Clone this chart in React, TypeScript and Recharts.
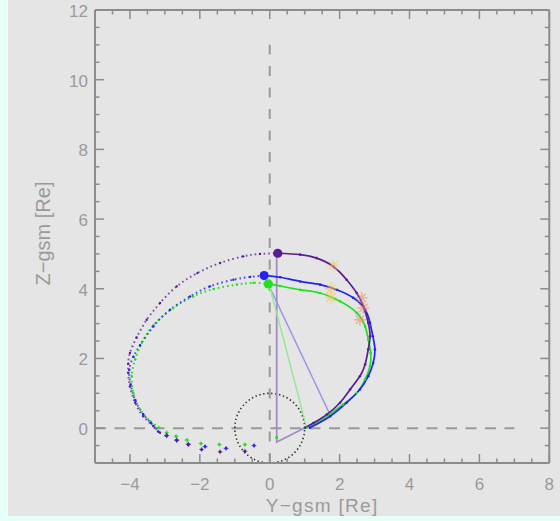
import React from 'react';
import { ComposedChart, Line, Scatter, XAxis, YAxis, ReferenceLine } from 'recharts';

type Pt = { x: number; y: number };

// Axis ticks (Re)
const xTicks = [-5, -4.5, -4, -3.5, -3, -2.5, -2, -1.5, -1, -0.5, 0, 0.5, 1, 1.5, 2, 2.5, 3, 3.5, 4, 4.5, 5, 5.5, 6, 6.5, 7, 7.5, 8];
const xMajor = [-4, -2, 0, 2, 4, 6, 8];
const yTicks = [-1, -0.5, 0, 0.5, 1, 1.5, 2, 2.5, 3, 3.5, 4, 4.5, 5, 5.5, 6, 6.5, 7, 7.5, 8, 8.5, 9, 9.5, 10, 10.5, 11, 11.5, 12];
const yMajor = [0, 2, 4, 6, 8, 10, 12];

// Spacecraft 1 (purple)
const purpleTail: Pt[] = [
  { x: -2.95, y: -0.21 }, { x: -2.66, y: -0.35 }, { x: -2.33, y: -0.47 }, { x: -1.95, y: -0.61 },
  { x: -1.42, y: -0.68 }, { x: -0.71, y: -0.66 },
];
const purpleInbound: Pt[] = [
  { x: -3.14, y: -0.13 }, { x: -3.33, y: 0.06 }, { x: -3.62, y: 0.34 }, { x: -3.85, y: 0.73 },
  { x: -4.0, y: 1.2 }, { x: -4.05, y: 1.59 }, { x: -4.05, y: 1.85 }, { x: -4.0, y: 2.16 },
  { x: -3.81, y: 2.6 }, { x: -3.52, y: 3.11 }, { x: -3.14, y: 3.59 }, { x: -2.66, y: 4.07 },
  { x: -2.07, y: 4.45 }, { x: -1.42, y: 4.74 }, { x: -0.76, y: 4.93 }, { x: -0.28, y: 5.0 },
  { x: 0.23, y: 5.02 },
];
const purpleOutbound: Pt[] = [
  { x: 0.23, y: 5.02 }, { x: 0.87, y: 4.98 }, { x: 1.34, y: 4.88 }, { x: 1.82, y: 4.64 },
  { x: 2.2, y: 4.26 }, { x: 2.49, y: 3.88 }, { x: 2.68, y: 3.5 }, { x: 2.82, y: 3.02 },
  { x: 2.87, y: 2.64 }, { x: 2.82, y: 2.26 }, { x: 2.73, y: 1.83 }, { x: 2.58, y: 1.49 },
  { x: 2.3, y: 1.11 }, { x: 2.01, y: 0.73 }, { x: 1.63, y: 0.39 }, { x: 1.25, y: 0.15 },
  { x: 1.01, y: 0.01 },
];
const purpleDot: Pt[] = [{ x: 0.23, y: 5.02 }];
const purpleFoot: Pt[] = [{ x: 0.2, y: 5.0 }, { x: 0.2, y: -0.4 }, { x: 1.01, y: 0.01 }];

// Spacecraft 2 (blue)
const blueTail: Pt[] = [
  { x: -2.95, y: -0.22 }, { x: -2.66, y: -0.34 }, { x: -2.33, y: -0.46 }, { x: -1.85, y: -0.53 },
  { x: -1.25, y: -0.58 }, { x: -0.45, y: -0.5 },
];
const blueInbound: Pt[] = [
  { x: -3.19, y: -0.1 }, { x: -3.4, y: 0.15 }, { x: -3.62, y: 0.4 }, { x: -3.85, y: 0.8 },
  { x: -3.98, y: 1.25 }, { x: -4.02, y: 1.68 }, { x: -3.9, y: 2.05 }, { x: -3.71, y: 2.38 },
  { x: -3.33, y: 2.92 }, { x: -2.85, y: 3.4 }, { x: -2.28, y: 3.78 }, { x: -1.71, y: 4.07 },
  { x: -1.04, y: 4.26 }, { x: -0.56, y: 4.34 }, { x: -0.16, y: 4.38 },
];
const blueOutbound: Pt[] = [
  { x: -0.16, y: 4.38 }, { x: 0.3, y: 4.33 }, { x: 0.87, y: 4.21 }, { x: 1.44, y: 4.12 },
  { x: 1.92, y: 3.97 }, { x: 2.39, y: 3.74 }, { x: 2.73, y: 3.4 }, { x: 2.87, y: 3.02 },
  { x: 2.95, y: 2.64 }, { x: 3.01, y: 2.26 }, { x: 2.96, y: 1.87 }, { x: 2.82, y: 1.49 },
  { x: 2.58, y: 1.11 }, { x: 2.2, y: 0.73 }, { x: 1.73, y: 0.34 }, { x: 1.15, y: 0.01 },
];
const blueDot: Pt[] = [{ x: -0.16, y: 4.38 }];
const blueFoot: Pt[] = [{ x: -0.16, y: 4.38 }, { x: 1.71, y: 0.42 }];

// Spacecraft 3 (green)
const greenTail: Pt[] = [
  { x: -2.95, y: -0.13 }, { x: -2.68, y: -0.23 }, { x: -2.37, y: -0.34 }, { x: -1.97, y: -0.44 },
  { x: -1.44, y: -0.47 }, { x: -0.71, y: -0.47 },
];
const greenInbound: Pt[] = [
  { x: -3.16, y: 0.01 }, { x: -3.42, y: 0.2 }, { x: -3.71, y: 0.54 }, { x: -3.9, y: 1.01 },
  { x: -3.95, y: 1.5 }, { x: -3.85, y: 1.97 }, { x: -3.66, y: 2.45 }, { x: -3.33, y: 2.95 },
  { x: -2.76, y: 3.45 }, { x: -2.19, y: 3.78 }, { x: -1.61, y: 3.99 }, { x: -0.94, y: 4.12 },
  { x: -0.47, y: 4.17 }, { x: -0.04, y: 4.14 },
];
const greenOutbound: Pt[] = [
  { x: -0.04, y: 4.14 }, { x: 0.3, y: 4.08 }, { x: 0.87, y: 3.97 }, { x: 1.44, y: 3.88 },
  { x: 2.01, y: 3.64 }, { x: 2.49, y: 3.31 }, { x: 2.73, y: 2.92 }, { x: 2.82, y: 2.54 },
  { x: 2.89, y: 2.16 }, { x: 2.87, y: 1.78 }, { x: 2.73, y: 1.4 }, { x: 2.49, y: 1.01 },
  { x: 2.1, y: 0.68 }, { x: 1.63, y: 0.34 }, { x: 1.06, y: 0.01 },
];
const greenDot: Pt[] = [{ x: -0.04, y: 4.14 }];
const greenFoot: Pt[] = [{ x: -0.02, y: 4.14 }, { x: 1.06, y: 0.0 }];
const greenFootMark: Pt[] = [{ x: 0.2, y: -0.27 }];

// Boundary crossing markers
const yellowStars: Pt[] = [{ x: 1.82, y: 4.67 }, { x: 1.75, y: 4.0 }, { x: 1.75, y: 3.75 }];
const orangeStars: Pt[] = [{ x: 2.63, y: 3.74 }, { x: 2.68, y: 3.45 }, { x: 2.58, y: 3.11 }];

// Earth outline, radius 1 Re
const earth: Pt[] = Array.from({ length: 73 }, (_, i) => ({
  x: Math.cos((i * 5 * Math.PI) / 180),
  y: Math.sin((i * 5 * Math.PI) / 180),
}));

const PURPLE = '#5a1c92';
const BLUE = '#2424ee';
const GREEN = '#22e022';
const AXIS = '#8c8c8c';
const TXT = '#9a9a9a';
const FONT = 'Liberation Sans, Arial, sans-serif';

const fmt = (v: number) => (v < 0 ? `\u2212${Math.abs(v)}` : `${v}`);

const BottomTick = (props: any) => {
  const { x, y, payload } = props;
  const major = xMajor.includes(payload.value);
  return (
    <g>
      <line x1={x} y1={y} x2={x} y2={y - (major ? 9 : 4.5)} stroke={AXIS} strokeWidth={1.5} />
      {major && (
        <text x={x} y={y + 27} textAnchor="middle" fill={TXT} fontSize={17} fontFamily={FONT}>
          {fmt(payload.value)}
        </text>
      )}
    </g>
  );
};

const TopTick = (props: any) => {
  const { x, y, payload } = props;
  const major = xMajor.includes(payload.value);
  return <line x1={x} y1={y} x2={x} y2={y + (major ? 9 : 4.5)} stroke={AXIS} strokeWidth={1.5} />;
};

const LeftTick = (props: any) => {
  const { x, y, payload } = props;
  const major = yMajor.includes(payload.value);
  return (
    <g>
      <line x1={x} y1={y} x2={x + (major ? 9 : 4.5)} y2={y} stroke={AXIS} strokeWidth={1.5} />
      {major && (
        <text x={x - 7} y={y + 7} textAnchor="end" fill={TXT} fontSize={17} fontFamily={FONT}>
          {fmt(payload.value)}
        </text>
      )}
    </g>
  );
};

const RightTick = (props: any) => {
  const { x, y, payload } = props;
  const major = yMajor.includes(payload.value);
  return <line x1={x} y1={y} x2={x - (major ? 9 : 4.5)} y2={y} stroke={AXIS} strokeWidth={1.5} />;
};

const XTitle = (props: any) => {
  const vb = props.viewBox || {};
  return (
    <text x={vb.x + vb.width / 2} y={vb.y + 49} textAnchor="middle" fill={TXT} fontSize={19} fontFamily={FONT} letterSpacing={1.3}>
      {'Y\u2212gsm [Re]'}
    </text>
  );
};

const YTitle = (props: any) => {
  const vb = props.viewBox || {};
  const cx = vb.x + vb.width - 45;
  const cy = vb.y + vb.height / 2 - 3;
  return (
    <text x={cx} y={cy} transform={`rotate(-90 ${cx} ${cy})`} textAnchor="middle" fill={TXT} fontSize={20} fontFamily={FONT}>
      {'Z\u2212gsm [Re]'}
    </text>
  );
};

const plusShape = (color: string, size: number) => (p: any) => {
  const { cx, cy } = p;
  return (
    <g>
      <path d={`M${cx - size},${cy}h${2 * size}M${cx},${cy - size}v${2 * size}`} stroke={color} strokeWidth={1} opacity={0.6} />
      <circle cx={cx} cy={cy} r={1.5} fill={color} />
    </g>
  );
};

const starShape = (color: string) => (p: any) => {
  const { cx, cy } = p;
  const s = 6;
  const d = 4.3;
  return (
    <path
      d={`M${cx - s},${cy}h${2 * s}M${cx},${cy - s}v${2 * s}M${cx - d},${cy - d}l${2 * d},${2 * d}M${cx - d},${cy + d}l${2 * d},${-2 * d}`}
      stroke={color}
      strokeWidth={1.5}
      opacity={0.55}
    />
  );
};

const bigDot = (color: string) => (p: any) => <circle cx={p.cx} cy={p.cy} r={4.6} fill={color} />;

export default function App() {
  return (
    <div style={{ position: 'absolute', left: 0, top: 0, width: 560, height: 521, background: '#e6fff8' }}>
      <div style={{ position: 'absolute', left: 8, top: 0, width: 552, height: 516, background: '#e5e5e5' }}>
        <ComposedChart
          width={552}
          height={516}
          margin={{ top: 0, right: 0, bottom: 0, left: 0 }}
          style={{ fontFamily: FONT }}
        >
          <XAxis
            type="number"
            dataKey="x"
            domain={[-5, 8]}
            ticks={xTicks}
            interval={0}
            height={53}
            tickSize={0}
            tickMargin={0}
            tick={BottomTick}
            axisLine={{ stroke: AXIS, strokeWidth: 2 }}
            allowDataOverflow
            label={<XTitle />}
          />
          <XAxis
            xAxisId="top"
            orientation="top"
            type="number"
            dataKey="x"
            domain={[-5, 8]}
            ticks={xTicks}
            interval={0}
            height={10}
            tickSize={0}
            tickMargin={0}
            tick={TopTick}
            axisLine={{ stroke: AXIS, strokeWidth: 2 }}
            allowDataOverflow
          />
          <YAxis
            type="number"
            dataKey="y"
            domain={[-1, 12]}
            ticks={yTicks}
            interval={0}
            width={87}
            tickSize={0}
            tickMargin={0}
            tick={LeftTick}
            axisLine={{ stroke: AXIS, strokeWidth: 2 }}
            allowDataOverflow
            label={<YTitle />}
          />
          <YAxis
            yAxisId="right"
            orientation="right"
            type="number"
            dataKey="y"
            domain={[-1, 12]}
            ticks={yTicks}
            interval={0}
            width={10.7}
            tickSize={0}
            tickMargin={0}
            tick={RightTick}
            axisLine={{ stroke: AXIS, strokeWidth: 2 }}
            allowDataOverflow
          />

          <ReferenceLine
            segment={[{ x: -5, y: 0 }, { x: 7, y: 0 }]}
            stroke="#9a9a9a"
            strokeWidth={2}
            strokeDasharray="11 8.5"
          />
          <ReferenceLine
            segment={[{ x: 0, y: -1 }, { x: 0, y: 11 }]}
            stroke="#9a9a9a"
            strokeWidth={2}
            strokeDasharray="10 11.5"
          />

          <Line data={earth} dataKey="y" type="linear" stroke="#333333" strokeWidth={1.6} strokeDasharray="1.4 2.6" dot={false} isAnimationActive={false} />

          <Line data={purpleFoot} dataKey="y" type="linear" stroke="#a58cc4" strokeWidth={1.8} dot={false} isAnimationActive={false} />
          <Line data={blueFoot} dataKey="y" type="linear" stroke="#9696e6" strokeWidth={1.5} dot={false} isAnimationActive={false} />
          <Line data={greenFoot} dataKey="y" type="linear" stroke="#96e896" strokeWidth={1.5} dot={false} isAnimationActive={false} />
          <Scatter data={greenFootMark} dataKey="y" shape={plusShape(GREEN, 1.5)} isAnimationActive={false} />

          <Line data={greenInbound} dataKey="y" type="natural" stroke={GREEN} strokeWidth={2} strokeDasharray="1.6 3" dot={{ r: 1.2, fill: GREEN, stroke: 'none' }} isAnimationActive={false} />
          <Line data={blueInbound} dataKey="y" type="natural" stroke={BLUE} strokeWidth={2} strokeDasharray="1.6 3" strokeOpacity={0.8} dot={{ r: 1.2, fill: BLUE, stroke: 'none' }} isAnimationActive={false} />
          <Line data={purpleInbound} dataKey="y" type="natural" stroke={PURPLE} strokeWidth={2} strokeDasharray="1.6 3" strokeOpacity={0.75} dot={{ r: 1.2, fill: PURPLE, stroke: 'none' }} isAnimationActive={false} />

          <Scatter data={greenTail} dataKey="y" shape={plusShape(GREEN, 2.5)} isAnimationActive={false} />
          <Scatter data={blueTail} dataKey="y" shape={plusShape(BLUE, 2.5)} isAnimationActive={false} />
          <Scatter data={purpleTail} dataKey="y" shape={plusShape(PURPLE, 2.5)} isAnimationActive={false} />

          <Line data={greenOutbound} dataKey="y" type="natural" stroke={GREEN} strokeWidth={1.7} dot={{ r: 1.3, fill: GREEN, stroke: 'none' }} isAnimationActive={false} />
          <Line data={blueOutbound} dataKey="y" type="natural" stroke={BLUE} strokeWidth={1.7} dot={{ r: 1.3, fill: BLUE, stroke: 'none' }} isAnimationActive={false} />
          <Line data={purpleOutbound} dataKey="y" type="natural" stroke={PURPLE} strokeWidth={1.7} dot={{ r: 1.3, fill: PURPLE, stroke: 'none' }} isAnimationActive={false} />

          <Scatter data={yellowStars} dataKey="y" shape={starShape('#f2c94c')} isAnimationActive={false} />
          <Scatter data={orangeStars} dataKey="y" shape={starShape('#f08a5a')} isAnimationActive={false} />

          <Scatter data={purpleDot} dataKey="y" shape={bigDot(PURPLE)} isAnimationActive={false} />
          <Scatter data={blueDot} dataKey="y" shape={bigDot(BLUE)} isAnimationActive={false} />
          <Scatter data={greenDot} dataKey="y" shape={bigDot(GREEN)} isAnimationActive={false} />
        </ComposedChart>
      </div>
    </div>
  );
}
